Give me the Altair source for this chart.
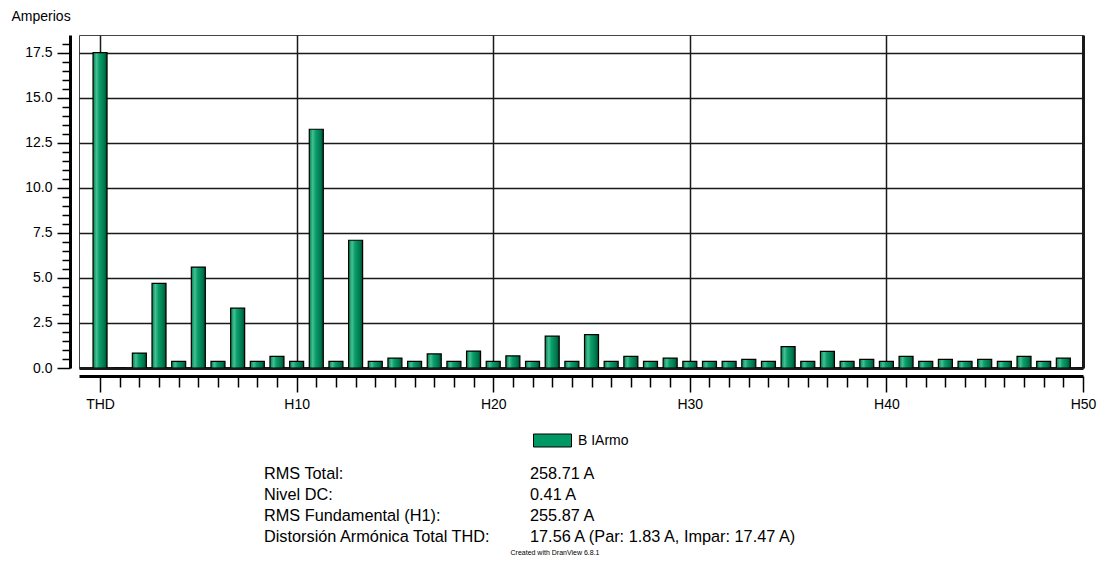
import json
import altair as alt
import pandas as pd

# ---- data ----
harmonics = ["THD"] + [f"H{i}" for i in range(1, 51)]
amperes = [17.5, 0.0, 0.83, 4.7, 0.37, 5.6, 0.37, 3.32, 0.37, 0.64, 0.37,
           13.25, 0.37, 7.09, 0.37, 0.55, 0.37, 0.78, 0.37, 0.94, 0.37,
           0.67, 0.37, 1.77, 0.37, 1.85, 0.37, 0.65, 0.37, 0.55, 0.37,
           0.37, 0.37, 0.48, 0.37, 1.19, 0.37, 0.92, 0.37, 0.48, 0.37,
           0.65, 0.37, 0.48, 0.37, 0.48, 0.37, 0.65, 0.37, 0.55, 0.0]
series_name = "B IArmo"
y_title = "Amperios"
stat_labels = ["RMS Total:", "Nivel DC:", "RMS Fundamental (H1):",
               "Distorsión Armónica Total THD:"]
stat_values = ["258.71 A", "0.41 A", "255.87 A",
               "17.56 A (Par: 1.83 A, Impar: 17.47 A)"]
credit = "Created with DranView 6.8.1"

FONT = "Liberation Sans"
W, H = 1004, 333

df = pd.DataFrame({
    "harm": harmonics,
    "idx": list(range(len(harmonics))),
    "amp": amperes,
    "series": [series_name] * len(harmonics),
})

labels_js = json.dumps(harmonics)
y_ticks = [i * 0.5 for i in range(37)]
x_ticks = list(range(len(harmonics)))

x_axis = alt.Axis(
    values=x_ticks,
    labelExpr=f"datum.value % 10 === 0 ? {labels_js}[datum.value] : ''",
    labelFlush=False, labelOverlap=False,
    labelFont=FONT, labelFontSize=14, labelColor="black", labelPadding=5,
    tickSize={"condition": {"test": "datum.value % 10 === 0", "value": 16}, "value": 11},
    tickColor="black", tickWidth=1.5,
    domainColor="black", domainWidth=3,
    offset=8,
    grid=True, gridColor="#1a1a1a",
    gridOpacity={"condition": {"test": "datum.value % 10 === 0", "value": 1}, "value": 0},
    gridWidth={"condition": {"test": "datum.value === 50", "value": 3}, "value": 1.5},
    title=None,
)
y_axis = alt.Axis(
    values=y_ticks,
    labelExpr="datum.value % 2.5 === 0 ? format(datum.value, '.1f') : ''",
    labelFlush=False, labelOverlap=False,
    labelFont=FONT, labelFontSize=14, labelColor="black", labelPadding=5,
    tickSize={"condition": {"test": "datum.value % 2.5 === 0", "value": 13}, "value": 8},
    tickColor="black", tickWidth=1.5,
    domainColor="black", domainWidth=3,
    offset=9,
    grid=True, gridColor="#1a1a1a",
    gridOpacity={"condition": {"test": "datum.value % 2.5 === 0", "value": 1}, "value": 0},
    gridWidth={"condition": {"test": "datum.value === 0", "value": 3}, "value": 1.5},
    title=y_title, titleAngle=0, titleAlign="left", titleBaseline="middle",
    titleX=-59, titleY=-19, titleFont=FONT, titleFontSize=14,
    titleFontWeight="normal", titleColor="black",
)

x_scale = alt.Scale(domain=[-1.07, 50], nice=False, zero=False, padding=0)
y_scale = alt.Scale(domain=[0, 18.48], nice=False)

x_enc = alt.X("idx:Q", scale=x_scale, axis=x_axis)
y_enc = alt.Y("amp:Q", scale=y_scale, axis=y_axis)

grad = alt.Gradient(
    gradient="linear", x1=0, x2=1, y1=0, y2=0,
    stops=[
        alt.GradientStop(offset=0, color="#00804f"),
        alt.GradientStop(offset=0.25, color="#45c093"),
        alt.GradientStop(offset=0.45, color="#0a9e6c"),
        alt.GradientStop(offset=0.8, color="#00784e"),
        alt.GradientStop(offset=1, color="#004a2e"),
    ],
)

base = alt.Chart(df)

bars = base.mark_bar(size=14, fill=grad, stroke="black", strokeWidth=1.2, clip=True).encode(
    x=x_enc, y=y_enc
)

legend_layer = base.mark_square(opacity=0, size=1).encode(
    x=x_enc, y=y_enc,
    color=alt.Color(
        "series:N", title=None,
        scale=alt.Scale(range=["#009966"]),
        legend=alt.Legend(
            orient="none", legendX=454, legendY=386, padding=0,
            symbolType="M-1,-0.342H1V0.342H-1Z", symbolSize=1444,
            symbolStrokeColor="black", symbolStrokeWidth=1, symbolOpacity=1,
            labelFont=FONT, labelFontSize=14, labelColor="black", labelOffset=6,
        ),
    ),
)

one = alt.Chart(pd.DataFrame({"k": [0]}))
left_col = one.mark_text(
    align="left", baseline="top", font=FONT, fontSize=16.3, lineHeight=21, color="black"
).encode(x=alt.value(185), y=alt.value(431), text=alt.value(stat_labels))
right_col = one.mark_text(
    align="left", baseline="top", font=FONT, fontSize=16.3, lineHeight=21, color="black"
).encode(x=alt.value(451), y=alt.value(431), text=alt.value(stat_values))
credit_txt = one.mark_text(
    align="center", baseline="middle", font=FONT, fontSize=7, color="black"
).encode(x=alt.value(476), y=alt.value(518), text=alt.value(credit))

chart = alt.layer(bars, legend_layer, left_col, right_col, credit_txt).properties(
    width=W, height=H,
    autosize=alt.AutoSizeParams(type="none"),
    padding={"left": 71, "top": 27, "right": 16, "bottom": 189},
    background="white",
).configure_view(stroke="#444", strokeWidth=1)

chart.save("out.html", embed_options={"renderer": "svg", "actions": False})
